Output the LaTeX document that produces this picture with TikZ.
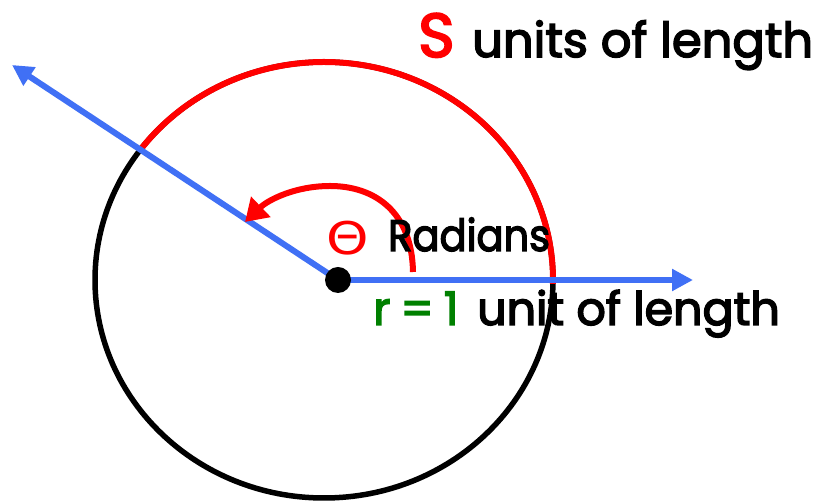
\documentclass[tikz,border=0pt]{standalone}
\usepackage{fontspec}
\setmainfont[FakeBold=3.2]{Poppins}
\newfontfamily\symfont{DejaVu Sans}
\newfontfamily\spacedfont[LetterSpace=22,FakeBold=3.2]{Poppins}
\usetikzlibrary{arrows.meta}
\definecolor{myblue}{RGB}{64,112,245}
\definecolor{mygreen}{RGB}{0,128,0}
\begin{document}
\begin{tikzpicture}[x=1pt,y=1pt,
  circ/.style={line width=5.5pt, black},
  redarc/.style={line width=6pt, red},
  ray/.style={line width=6pt, myblue, -{Triangle[length=21pt,width=21pt]}},
  anglearrow/.style={line width=6pt, red, -{Triangle[length=22pt,width=27pt]}},
  lbl/.style={anchor=base west, inner sep=0pt}
]
\useasboundingbox (0,0) rectangle (819,502);
\fill[white] (0,0) rectangle (819,502);
% circle
\draw[circ] (324,222) ellipse [x radius=229, y radius=218];
% red arc (length s)
\draw[redarc] (324,222) ++(143.4:229 and 218) arc[start angle=143.4, end angle=-1, x radius=229, y radius=218];
% centre
\coordinate (C) at (338,222);
\coordinate (tipA) at (12,437);
\coordinate (tipB) at (693,222);
\draw[ray] (C) -- (tipA);
\draw[ray] (C) -- (tipB);
\node[circle, fill=black, minimum size=26pt, inner sep=0pt] (O) at (C) {};
% theta arc
\coordinate (t0) at (413,230);
\coordinate (t1) at (330,316);
\coordinate (t2) at (245,280);
\draw[anglearrow] (t0) .. controls (412,290) and (375,316) .. (t1) .. controls (295,316) and (268,302) .. (t2);
% labels
\node[lbl, text=red, font=\fontsize{62}{66}\selectfont] (S) at (418,445) {S};
\node[lbl, font=\fontsize{48}{52}\selectfont] (units) at (472,445) {units of length};
\node[text=red, inner sep=0pt, font=\symfont\fontsize{45}{48}\selectfont, xscale=1.2] (theta) at (348,264) {Θ};
\node[lbl, font=\fontsize{44}{48}\selectfont, xscale=0.91] (rad) at (388,251) {Radians};
\node[lbl, text=mygreen, font=\spacedfont\fontsize{46}{50}\selectfont] (r) at (373,177) {r=1};
\node[lbl, font=\fontsize{46}{50}\selectfont] (unit) at (477,177) {unit of length};
\end{tikzpicture}
\end{document}
